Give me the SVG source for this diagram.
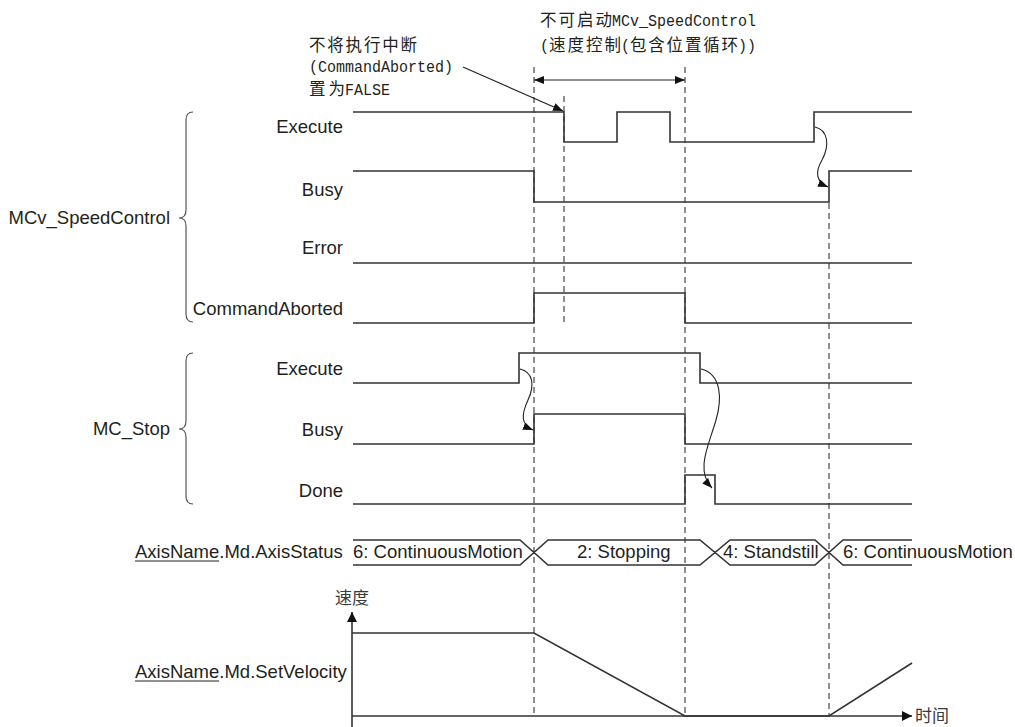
<svg xmlns="http://www.w3.org/2000/svg" width="1015" height="727" viewBox="0 0 1015 727">
  <style>
    .lbl { font-family: "Liberation Sans", Arial, sans-serif; font-size: 18.5px; fill: #231f20; }
    .mono { font-family: "Liberation Mono", monospace; font-size: 16px; fill: #231f20; }
    .cjk { font-family: "Noto Sans CJK SC", sans-serif; font-size: 16.5px; fill: #231f20; }
    .axcjk { font-family: "Noto Sans CJK SC", sans-serif; font-size: 17px; fill: #3a3a3a; }
    .sig { fill: none; stroke: #333; stroke-width: 1.6; }
    .dash { fill: none; stroke: #555; stroke-width: 1.3; stroke-dasharray: 6 4; }
    .brace { fill: none; stroke: #555; stroke-width: 1.2; }
    .thin { fill: none; stroke: #222; stroke-width: 1.1; }
    .ul { stroke: #231f20; stroke-width: 1.2; }
  </style>
  <defs>
    <marker id="head" markerWidth="10" markerHeight="8" refX="10" refY="4" orient="auto" markerUnits="userSpaceOnUse">
      <path d="M0,0 L10,4 L0,8 Z" fill="#111"/>
    </marker>
    <marker id="headStart" markerWidth="10" markerHeight="8" refX="0" refY="4" orient="auto" markerUnits="userSpaceOnUse">
      <path d="M10,0 L0,4 L10,8 Z" fill="#111"/>
    </marker>
    <marker id="axisHead" markerWidth="10" markerHeight="10" refX="10" refY="5" orient="auto" markerUnits="userSpaceOnUse">
      <path d="M0,0 L10,5 L0,10 Z" fill="#111"/>
    </marker>
  </defs>

  <rect width="1015" height="727" fill="#fff"/>

  <!-- timing reference lines -->
  <g id="guides">
    <line class="dash" x1="534" y1="67" x2="534" y2="716"/>
    <line class="dash" x1="564" y1="96" x2="564" y2="322"/>
    <line class="dash" x1="685" y1="67" x2="685" y2="716"/>
    <line class="dash" x1="829" y1="203" x2="829" y2="716"/>
  </g>

  <!-- annotations: full-width CJK glyphs 18px, half-width Latin 9px -->
  <g id="note-abort">
    <text class="cjk" x="309" y="51" textLength="108" lengthAdjust="spacing">不将执行中断</text>
    <text class="mono" x="309" y="72" textLength="144" lengthAdjust="spacingAndGlyphs">(CommandAborted)</text>
    <text class="cjk" x="309" y="95" textLength="36" lengthAdjust="spacing">置为</text>
    <text class="mono" x="345" y="95" textLength="45" lengthAdjust="spacingAndGlyphs">FALSE</text>
  </g>
  <g id="note-start">
    <text class="cjk" x="540" y="26" textLength="72" lengthAdjust="spacing">不可启动</text>
    <text class="mono" x="612" y="26" textLength="144" lengthAdjust="spacingAndGlyphs">MCv_SpeedControl</text>
    <text class="mono" x="540" y="51" textLength="9" lengthAdjust="spacingAndGlyphs">(</text>
    <text class="cjk" x="549" y="51" textLength="72" lengthAdjust="spacing">速度控制</text>
    <text class="mono" x="621" y="51" textLength="9" lengthAdjust="spacingAndGlyphs">(</text>
    <text class="cjk" x="630" y="51" textLength="108" lengthAdjust="spacing">包含位置循环</text>
    <text class="mono" x="738" y="51" textLength="18" lengthAdjust="spacingAndGlyphs">))</text>
  </g>

  <!-- MCv_SpeedControl group -->
  <g id="mcv-group">
    <text class="lbl" x="170" y="224" text-anchor="end">MCv_SpeedControl</text>
    <path class="brace" d="M193,112 Q186,112 186,120 L186,210 Q186,218 179,218 Q186,218 186,226 L186,314 Q186,322 193,322"/>
  </g>
  <g id="mcv-execute">
    <text class="lbl" x="343" y="133" text-anchor="end">Execute</text>
    <polyline class="sig" points="353,112 564,112 564,142 617,142 617,112 670,112 670,142 814,142 814,112 912,112"/>
  </g>
  <g id="mcv-busy">
    <text class="lbl" x="343" y="196" text-anchor="end">Busy</text>
    <polyline class="sig" points="353,171 534,171 534,202 829,202 829,171 912,171"/>
  </g>
  <g id="mcv-error">
    <text class="lbl" x="343" y="254" text-anchor="end">Error</text>
    <line class="sig" x1="353" y1="263" x2="912" y2="263"/>
  </g>
  <g id="mcv-commandaborted">
    <text class="lbl" x="343" y="315" text-anchor="end">CommandAborted</text>
    <polyline class="sig" points="353,323 534,323 534,293 685,293 685,323 912,323"/>
  </g>

  <!-- MC_Stop group -->
  <g id="stop-group">
    <text class="lbl" x="170" y="435" text-anchor="end">MC_Stop</text>
    <path class="brace" d="M193,353 Q186,353 186,361 L186,421 Q186,429 179,429 Q186,429 186,437 L186,496 Q186,504 193,504"/>
  </g>
  <g id="stop-execute">
    <text class="lbl" x="343" y="375" text-anchor="end">Execute</text>
    <polyline class="sig" points="353,383 519,383 519,353 700,353 700,383 912,383"/>
  </g>
  <g id="stop-busy">
    <text class="lbl" x="343" y="436" text-anchor="end">Busy</text>
    <polyline class="sig" points="353,444 534,444 534,414 685,414 685,444 912,444"/>
  </g>
  <g id="stop-done">
    <text class="lbl" x="343" y="497" text-anchor="end">Done</text>
    <polyline class="sig" points="353,504 685,504 685,475 715,475 715,504 912,504"/>
  </g>

  <!-- axis status bus -->
  <g id="axis-status">
    <text class="lbl" x="135" y="558">AxisName.Md.AxisStatus</text>
    <line class="ul" x1="135" y1="561" x2="219" y2="561"/>
    <path class="sig" d="M353,540 L520,540 L548,565 L700,565 L730,540 L815,540 L843,565 L912,565
                         M353,565 L520,565 L548,540 L700,540 L730,565 L815,565 L843,540 L912,540"/>
    <text class="lbl" x="353" y="558">6: ContinuousMotion</text>
    <text class="lbl" x="577" y="558">2: Stopping</text>
    <text class="lbl" x="723" y="558">4: Standstill</text>
    <text class="lbl" x="843" y="558">6: ContinuousMotion</text>
  </g>

  <!-- velocity chart -->
  <g id="velocity">
    <text class="lbl" x="135" y="678">AxisName.Md.SetVelocity</text>
    <line class="ul" x1="135" y1="681" x2="219" y2="681"/>
    <text class="axcjk" x="352" y="604" text-anchor="middle">速度</text>
    <text class="axcjk" x="915" y="722">时间</text>
    <line class="sig" x1="352" y1="727" x2="352" y2="612" marker-end="url(#axisHead)"/>
    <line class="sig" x1="352" y1="716" x2="912" y2="716" marker-end="url(#axisHead)"/>
    <polyline class="sig" points="352,633 534,633 685,716 829,716 912,663"/>
  </g>

  <!-- connectors -->
  <g id="connectors">
    <line class="thin" x1="463" y1="67" x2="563" y2="111" marker-end="url(#head)"/>
    <line class="thin" x1="534" y1="80" x2="685" y2="80" marker-start="url(#headStart)" marker-end="url(#head)"/>
    <path class="thin" d="M815,127 C828,130 830,145 822,160 C815,172 816,182 828,187" marker-end="url(#head)"/>
    <path class="thin" d="M520,369 C533,372 535,385 528,400 C521,415 521,425 533,430" marker-end="url(#head)"/>
    <path class="thin" d="M701,369 C722,374 722,400 716,420 C709,445 695,470 712,488" marker-end="url(#head)"/>
  </g>
</svg>
